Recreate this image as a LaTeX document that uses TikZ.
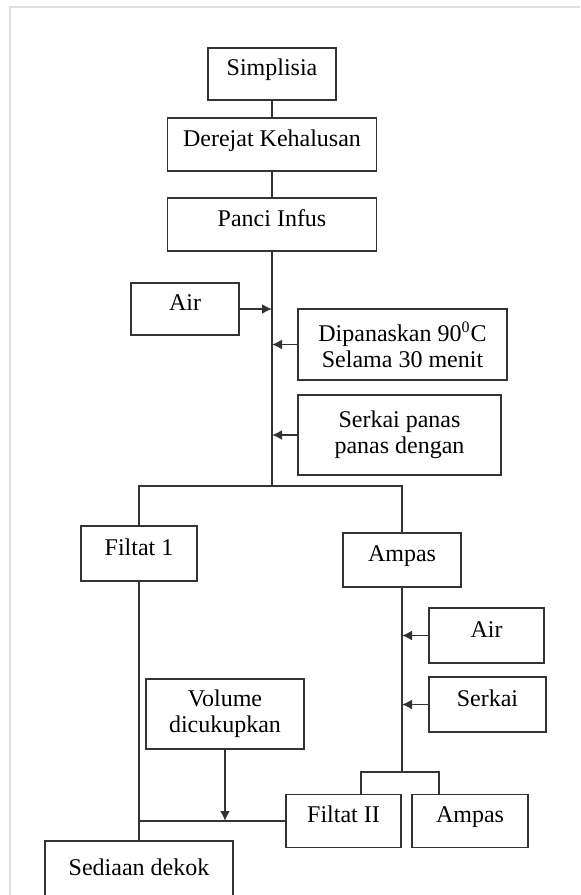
\documentclass[tikz,border=0pt]{standalone}
\usepackage{fontspec}
\setmainfont{Liberation Serif}
\usetikzlibrary{arrows.meta,calc}

\begin{document}
\begin{tikzpicture}[x=0.5pt,y=-0.5pt,line width=0.85pt,draw=black!80,text=black,
  font=\fontsize{12}{13}\selectfont,
  pbox/.style 2 args={draw,inner sep=0pt,minimum width=#1pt,minimum height=#2pt,text height=8.5pt,text depth=7pt},
  pbox2/.style 2 args={draw,inner sep=0pt,minimum width=#1pt,minimum height=#2pt,align=center},
  feed/.style={-{Latex[length=5pt,width=5pt]}}]
  \useasboundingbox (0,0) rectangle (580,895);
  \draw[black!12,line width=1pt] (10,895)--(10,7)--(580,7);

  \node[pbox={64}{26}] (simp) at (272,74) {Simplisia};
  \node[pbox={104.5}{26.5}] (derej) at (272,144.5) {Derejat Kehalusan};
  \node[pbox={104.5}{26.5}] (panci) at (272,224.5) {Panci Infus};
  \node[pbox={54}{26}] (airA) at (185,309) {Air};
  \node[pbox2={104.5}{35.5}] (panas) at (402.5,344.5) {Dipanaskan 90\textsuperscript{0}C\\Selama 30 menit};
  \node[pbox2={101.5}{40}] (serk) at (399.5,435) {Serkai panas\\panas dengan};
  \node[pbox={58}{27.5}] (filt1) at (139,553.5) {Filtat 1};
  \node[pbox={59}{27}] (ampas) at (402,560) {Ampas};
  \node[pbox={57.5}{27.5}] (airB) at (486.5,635.5) {Air};
  \node[pbox={58.5}{27.5}] (serkB) at (487.5,704.5) {Serkai};
  \node[pbox2={79}{35}] (vol) at (225,714) {Volume\\dicukupkan};
  \node[pbox={57.5}{26.5}] (filt2) at (343.5,821) {Filtat II};
  \node[pbox={58}{26.5}] (ampas2) at (470,821) {Ampas};
  \node[pbox={94}{33}] (sedia) at (139,874) {Sediaan dekok};

  \coordinate (fork) at (272,486);
  \coordinate (fork2) at (402,772);
  \coordinate (join) at (139,821);

  \draw (simp) -- (derej);
  \draw (derej) -- (panci);
  \draw (panci.south) -- (fork);
  \draw[feed] (airA.east) -- (airA.east -| fork);
  \draw[feed] (panas.west) -- (panas.west -| fork);
  \draw[feed] (serk.west) -- (serk.west -| fork);
  \draw (filt1.north) |- (fork) -| (ampas.north);
  \draw (ampas.south) -- (fork2);
  \draw[feed] (airB.west) -- (airB.west -| fork2);
  \draw[feed] (serkB.west) -- (serkB.west -| fork2);
  \draw ($(filt2.north)+(17.5,0)$) |- (fork2) -| ($(ampas2.north)+(-31,0)$);
  \draw (filt1.south) -- (sedia.north);
  \draw (join) -- (filt2.west);
  \draw[feed] (vol.south) -- (vol.south |- join);
\end{tikzpicture}
\end{document}
